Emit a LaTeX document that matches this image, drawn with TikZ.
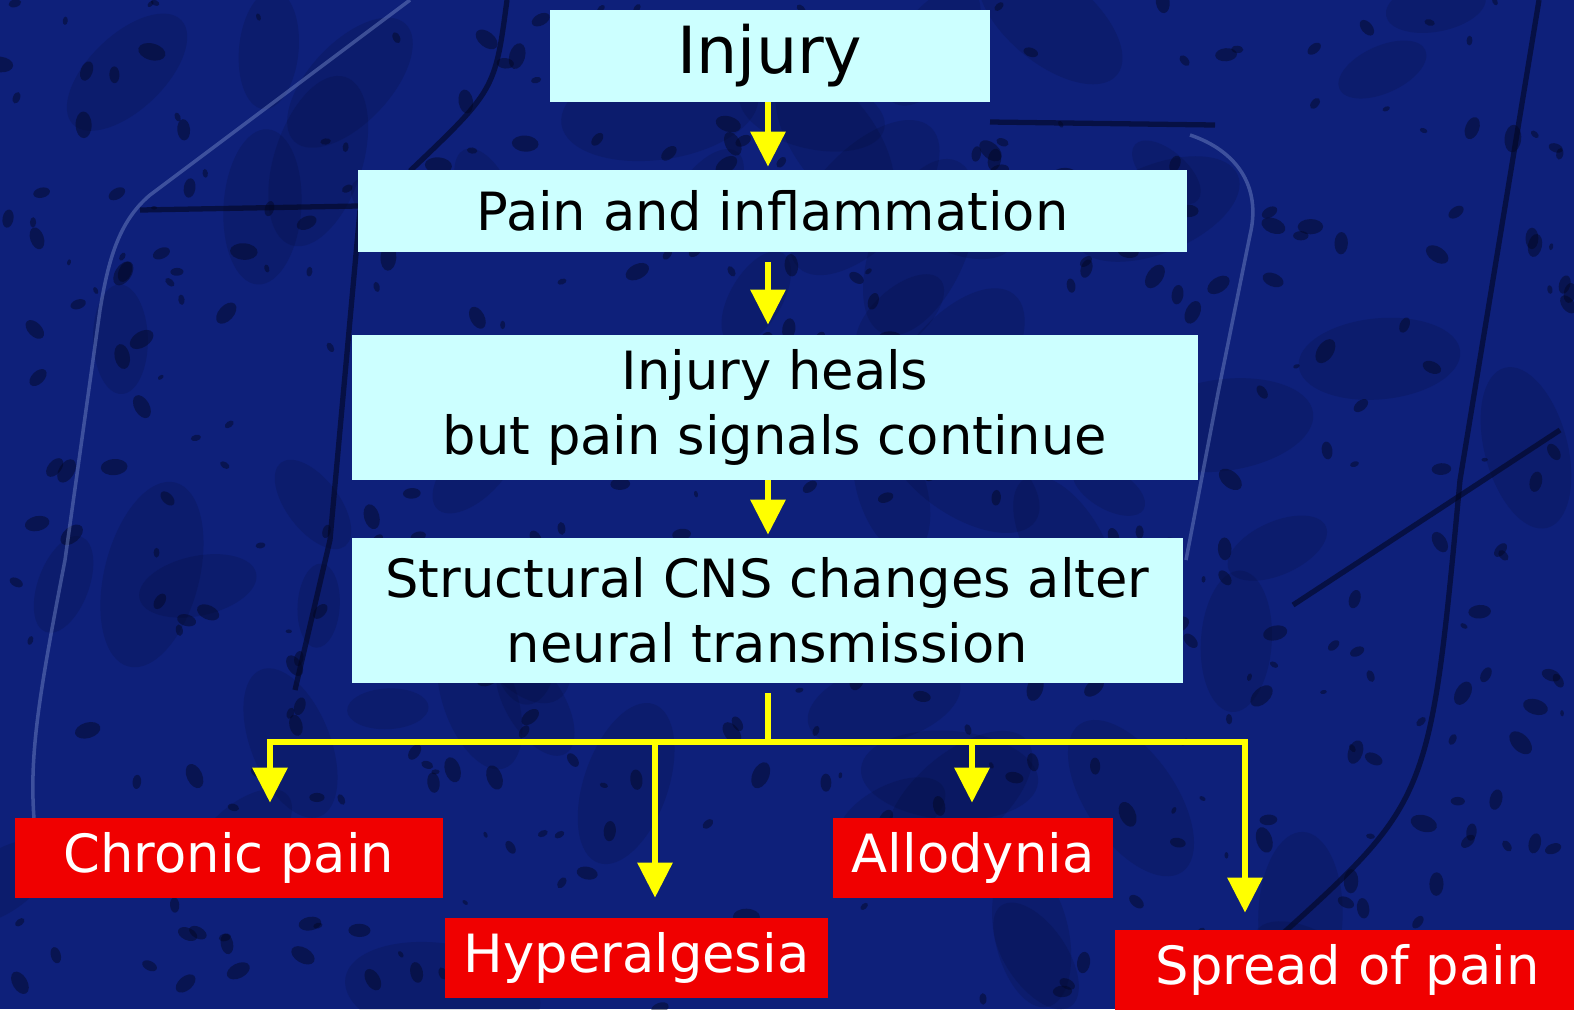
\documentclass[tikz,border=0pt]{standalone}
\usepackage{fontspec}
\setmainfont{DejaVu Sans}
\usetikzlibrary{arrows.meta}
\definecolor{bgblue}{RGB}{14,32,122}
\definecolor{bgdark}{RGB}{2,6,32}
\definecolor{ghost}{RGB}{120,140,200}
\definecolor{boxcyan}{RGB}{204,255,255}
\definecolor{boxred}{RGB}{240,0,0}
\definecolor{arrowyellow}{RGB}{255,255,0}
\tikzset{
  cyanbox/.style={fill=boxcyan, text=black, align=center, inner sep=0pt,
    font=\fontsize{30}{37}\selectfont},
  redbox/.style={fill=boxred, text=white, inner sep=0pt, minimum height=1.6cm,
    font=\fontsize{30}{37}\selectfont},
  flow/.style={draw=arrowyellow, line width=3.4pt, -{Triangle[length=0.7cm,width=0.68cm]}},
  trunk/.style={draw=arrowyellow, line width=3.4pt},
  ghostline/.style={draw=ghost, line width=2pt, opacity=0.45},
  darkline/.style={draw=bgdark, line width=3pt, opacity=0.6},
}
\begin{document}
\begin{tikzpicture}[x=0.02cm,y=-0.02cm]
\useasboundingbox (0,0) rectangle (1574,1009);
\clip (0,0) rectangle (1574,1009);
% background
\fill[bgblue] (0,0) rectangle (1574,1009);
\pgfmathsetseed{11}
\foreach \i in {1,...,60}{
  \pgfmathsetmacro{\px}{rnd*1574}
  \pgfmathsetmacro{\py}{rnd*1009}
  \pgfmathsetmacro{\pr}{40+rnd*60}
  \pgfmathsetmacro{\pa}{rnd*180}
  \fill[bgdark, opacity=0.14, rotate around={\pa:(\px,\py)}] (\px,\py) ellipse ({\pr} and {0.5*\pr});
}
\foreach \i in {1,...,420}{
  \pgfmathsetmacro{\px}{rnd*1574}
  \pgfmathsetmacro{\py}{rnd*1009}
  \pgfmathsetmacro{\pr}{3+rnd*11}
  \pgfmathsetmacro{\pa}{rnd*180}
  \fill[bgdark, opacity=0.45, rotate around={\pa:(\px,\py)}] (\px,\py) ellipse ({\pr} and {0.6*\pr});
}
% faint background outlines
\draw[ghostline] (410,0) -- (150,195) .. controls (118,222) and (108,262) .. (100,310)
  -- (65,560) .. controls (38,700) and (28,760) .. (35,830);
\draw[ghostline] (1190,135) .. controls (1235,150) and (1262,185) .. (1250,235)
  -- (1218,393) -- (1186,560);
\draw[darkline] (140,210) -- (358,206);
\draw[darkline] (990,122) -- (1215,125);
\draw[darkline] (360,210) -- (330,540) -- (295,690);
\draw[darkline] (507,0) .. controls (495,90) .. (410,171);
\draw[darkline] (1539,0) -- (1460,480) .. controls (1430,800) .. (1279,937);
\draw[darkline] (1293,605) -- (1560,430);

% flow boxes
\node[cyanbox, minimum width=8.8cm, minimum height=1.84cm,
      font=\fontsize{37}{44}\selectfont] (inj) at (770,56) {Injury};
\node[cyanbox, minimum width=16.58cm, minimum height=1.64cm] (pain) at (772.5,211) {Pain and inflammation};
\node[cyanbox, minimum width=16.92cm, minimum height=2.9cm] (heal) at (775,407.5) {Injury heals\\but pain signals continue};
\node[cyanbox, minimum width=16.62cm, minimum height=2.9cm] (cns) at (767.5,610.5) {Structural CNS changes alter\\neural transmission};

% outcome boxes
\node[redbox, minimum width=8.56cm] (chronic) at (229,858) {Chronic pain};
\node[redbox, minimum width=7.66cm] (hyper) at (636.5,958) {Hyperalgesia};
\node[redbox, minimum width=5.6cm] (allo) at (973,858) {Allodynia};
\node[redbox, minimum width=9.3cm] (spread) at (1347.5,970) {Spread of pain};

% connectors
\coordinate (axis) at (768,0);
\coordinate (split) at (768,742);
\coordinate (b1) at (270,742);
\coordinate (b2) at (655,742);
\coordinate (b3) at (972,742);
\coordinate (b4) at (1245,742);

\draw[flow, shorten >=0.06cm] (axis |- inj.south) -- (axis |- pain.north);
\draw[flow, shorten <=0.2cm, shorten >=0.2cm] (axis |- pain.south) -- (axis |- heal.north);
\draw[flow, shorten >=0.06cm] (axis |- heal.south) -- (axis |- cns.north);
\draw[trunk, shorten <=0.2cm] (axis |- cns.south) -- (split);
\draw[trunk, line cap=rect] (b1) -- (b4);
\draw[flow, shorten >=0.3cm] (b1) -- (b1 |- chronic.north);
\draw[flow, shorten >=0.4cm] (b2) -- (b2 |- hyper.north);
\draw[flow, shorten >=0.3cm] (b3) -- (b3 |- allo.north);
\draw[flow, shorten >=0.34cm] (b4) -- (b4 |- spread.north);
\end{tikzpicture}
\end{document}
